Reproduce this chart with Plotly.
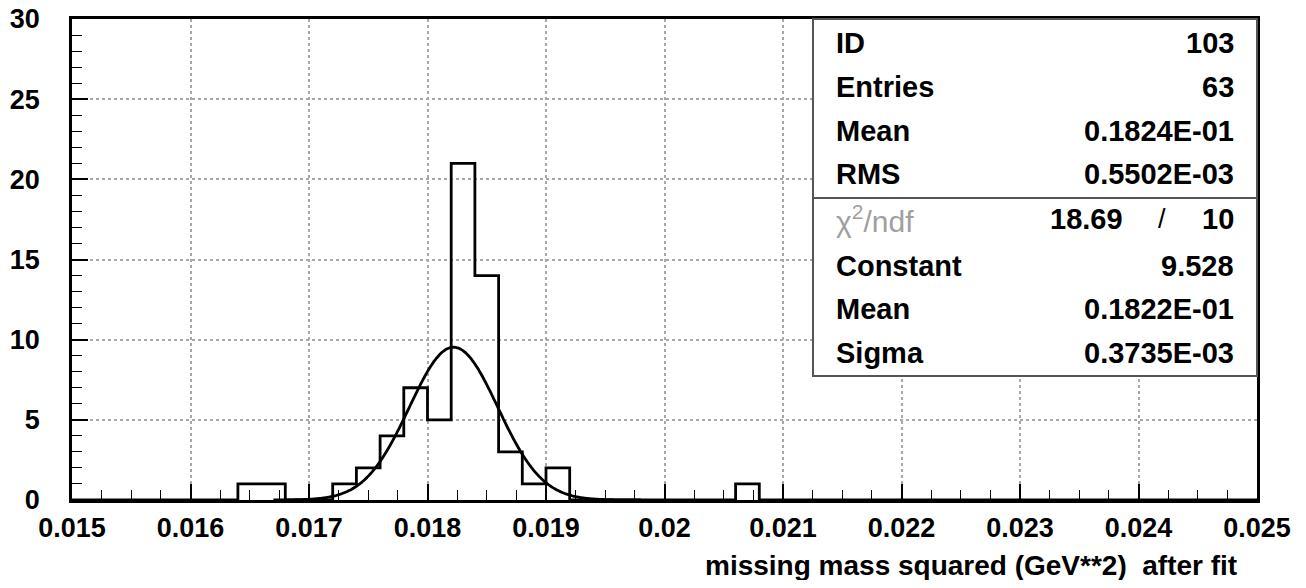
import numpy as np
import plotly.graph_objects as go

# ---- data ----
bin_width = 0.0002
x_min, x_max = 0.015, 0.025
bin_low_edges = [0.0164, 0.0166, 0.0172, 0.0174, 0.0176, 0.0178, 0.0180,
                 0.0182, 0.0184, 0.0186, 0.0188, 0.0190, 0.0206]
bin_counts = [1, 1, 1, 2, 4, 7, 5, 21, 14, 3, 1, 2, 1]

fit_constant = 9.528
fit_mean = 0.01822
fit_sigma = 0.0003735
fit_range = [0.0167, 0.0198]

x_tick_vals = [0.015, 0.016, 0.017, 0.018, 0.019, 0.020, 0.021, 0.022, 0.023, 0.024, 0.025]
x_tick_text = ["0.015", "0.016", "0.017", "0.018", "0.019", "0.02", "0.021",
               "0.022", "0.023", "0.024", "0.025"]
y_tick_vals = [0, 5, 10, 15, 20, 25, 30]

stat_labels = ["ID", "Entries", "Mean", "RMS"]
stat_values = ["103", "63", "0.1824E-01", "0.5502E-03"]
fit_labels = ["Constant", "Mean", "Sigma"]
fit_values = ["9.528", "0.1822E-01", "0.3735E-03"]
chi2_value = "18.69"
ndf_value = "10"

# ---- build full histogram ----
nbins = int(round((x_max - x_min) / bin_width))
edges = [x_min + i * bin_width for i in range(nbins + 1)]
counts = [0] * nbins
for e, c in zip(bin_low_edges, bin_counts):
    counts[int(round((e - x_min) / bin_width))] = c

hx = []
hy = []
for i in range(nbins):
    hx += [edges[i], edges[i + 1]]
    hy += [counts[i], counts[i]]

fx = np.linspace(fit_range[0], fit_range[1], 300)
fy = fit_constant * np.exp(-0.5 * ((fx - fit_mean) / fit_sigma) ** 2)

FONT = "Liberation Sans, Arial, sans-serif"

fig = go.Figure()
fig.add_trace(go.Scatter(x=hx, y=hy, mode="lines",
                         line=dict(color="black", width=2.8), hoverinfo="skip"))
fig.add_trace(go.Scatter(x=fx, y=fy, mode="lines",
                         line=dict(color="black", width=2.8, shape="spline"), hoverinfo="skip"))

# target page pixel positions (reference), page offset of the figure = 8px
OFF = 8
L, R, T, B = 72, 1257, 19, 500
W, H = 1306 - 2 * OFF, 588 - 2 * OFF


def px(x):
    return (x - L) / (R - L)


def py(y):
    return (B - y) / (B - T)


shapes = []
shapes.append(dict(type="rect", xref="paper", yref="paper",
                   x0=px(813), x1=1.0, y0=py(376), y1=1.0,
                   fillcolor="white", line=dict(color="#555", width=2), layer="above"))
shapes.append(dict(type="line", xref="paper", yref="paper",
                   x0=px(813), x1=1.0, y0=py(198), y1=py(198),
                   line=dict(color="#555", width=2), layer="above"))

annotations = []
bold = dict(family=FONT, size=29, color="black", weight="bold")
rows_top = [43, 87, 131, 174]
for lab, val, yy in zip(stat_labels, stat_values, rows_top):
    annotations.append(dict(xref="paper", yref="paper", x=px(834), y=py(yy), text=lab,
                            showarrow=False, xanchor="left", yanchor="middle", font=bold))
    annotations.append(dict(xref="paper", yref="paper", x=px(1236), y=py(yy), text=val,
                            showarrow=False, xanchor="right", yanchor="middle", font=bold))
annotations.append(dict(xref="paper", yref="paper", x=px(834), y=py(219),
                        text="χ<sup>2</sup>/ndf", showarrow=False, xanchor="left", yanchor="middle",
                        font=dict(family=FONT, size=30, color="#a0a0a0")))
annotations.append(dict(xref="paper", yref="paper", x=px(1125), y=py(219), text=chi2_value,
                        showarrow=False, xanchor="right", yanchor="middle", font=bold))
annotations.append(dict(xref="paper", yref="paper", x=px(1162), y=py(219), text="/",
                        showarrow=False, xanchor="center", yanchor="middle",
                        font=dict(family=FONT, size=27, color="black")))
annotations.append(dict(xref="paper", yref="paper", x=px(1236), y=py(219), text=ndf_value,
                        showarrow=False, xanchor="right", yanchor="middle", font=bold))
rows_fit = [266, 309, 353]
for lab, val, yy in zip(fit_labels, fit_values, rows_fit):
    annotations.append(dict(xref="paper", yref="paper", x=px(834), y=py(yy), text=lab,
                            showarrow=False, xanchor="left", yanchor="middle", font=bold))
    annotations.append(dict(xref="paper", yref="paper", x=px(1236), y=py(yy), text=val,
                            showarrow=False, xanchor="right", yanchor="middle", font=bold))

annotations.append(dict(xref="paper", yref="paper", x=px(1239), y=py(565),
                        text="missing mass squared (GeV**2)  after fit", showarrow=False,
                        xanchor="right", yanchor="middle",
                        font=dict(family=FONT, size=28, color="black", weight="bold")))

fig.update_layout(
    width=W, height=H,
    margin=dict(l=L - OFF, r=(1306 - OFF) - R, t=T - OFF, b=(588 - OFF) - B, autoexpand=False),
    paper_bgcolor="white", plot_bgcolor="white",
    showlegend=False,
    shapes=shapes, annotations=annotations,
    font=dict(family=FONT, color="black"),
)
fig.update_xaxes(range=[x_min, x_max], tickvals=x_tick_vals, ticktext=x_tick_text,
                 ticks="inside", ticklen=16, tickwidth=1.5, tickcolor="black",
                 showline=True, linecolor="black", linewidth=2.5, mirror=True,
                 showgrid=True, gridcolor="#a8a8a8", griddash="dot", gridwidth=1.5,
                 zeroline=False, automargin=False, ticklabelstandoff=2,
                 ticklabeloverflow="allow",
                 minor=dict(dtick=0.00025, tick0=0.015, ticks="inside", ticklen=10,
                            tickcolor="black", tickwidth=1, showgrid=False),
                 tickfont=dict(family=FONT, size=27, color="black", weight="bold"))
fig.update_yaxes(range=[0, 30], tickvals=y_tick_vals,
                 ticks="inside", ticklen=16, tickwidth=1.5, tickcolor="black",
                 showline=True, linecolor="black", linewidth=2.5, mirror=True,
                 showgrid=True, gridcolor="#a8a8a8", griddash="dot", gridwidth=1.5,
                 zeroline=False, automargin=False, ticklabelstandoff=24,
                 ticklabeloverflow="allow",
                 minor=dict(dtick=1, tick0=0, ticks="inside", ticklen=10,
                            tickcolor="black", tickwidth=1, showgrid=False),
                 tickfont=dict(family=FONT, size=27, color="black", weight="bold"))

fig.write_html("out.html")
